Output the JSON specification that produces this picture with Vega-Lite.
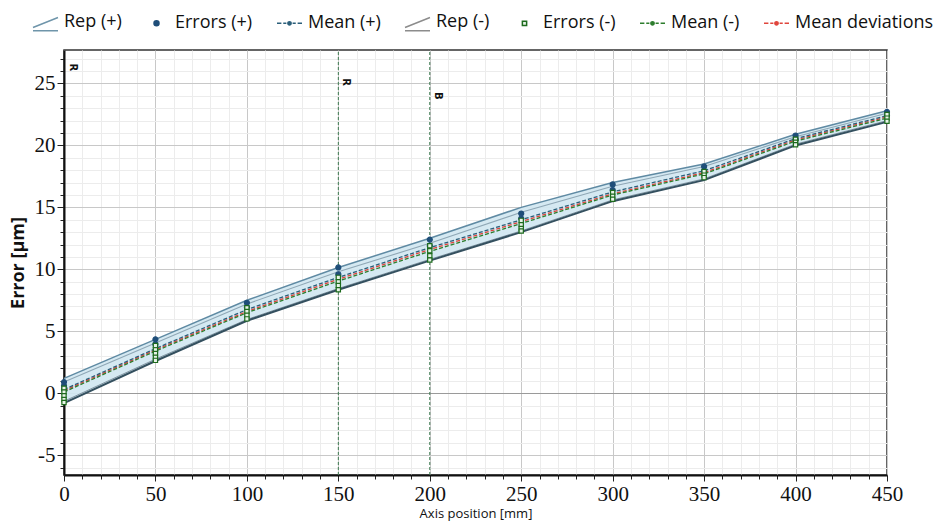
{
  "$schema": "https://vega.github.io/schema/vega-lite/v6.json",
  "width": 823,
  "height": 425,
  "autosize": "none",
  "padding": {"left": 64, "top": 50, "right": 54, "bottom": 53},
  "background": "white",
  "config": {"view": {"stroke": "#333", "strokeWidth": 1.5}},
  "datasets": {
    "band": [
      {"x": 0, "v": 1.2, "v2": -0.8},
      {"x": 50, "v": 4.35, "v2": 2.6},
      {"x": 100, "v": 7.5, "v2": 5.85},
      {"x": 150, "v": 10.15, "v2": 8.35},
      {"x": 200, "v": 12.5, "v2": 10.7},
      {"x": 250, "v": 15.0, "v2": 13.0},
      {"x": 300, "v": 17.0, "v2": 15.5},
      {"x": 350, "v": 18.5, "v2": 17.2},
      {"x": 400, "v": 20.9, "v2": 20.0},
      {"x": 450, "v": 22.8, "v2": 21.9}
    ],
    "lines": [
      {"k": "u2", "x": 0, "v": 0.9}, {"k": "u2", "x": 50, "v": 4.05}, {"k": "u2", "x": 100, "v": 7.2}, {"k": "u2", "x": 150, "v": 9.8}, {"k": "u2", "x": 200, "v": 12.1}, {"k": "u2", "x": 250, "v": 14.6}, {"k": "u2", "x": 300, "v": 16.7}, {"k": "u2", "x": 350, "v": 18.3}, {"k": "u2", "x": 400, "v": 20.7}, {"k": "u2", "x": 450, "v": 22.6},
      {"k": "l2", "x": 0, "v": -0.65}, {"k": "l2", "x": 50, "v": 2.75}, {"k": "l2", "x": 100, "v": 5.95}, {"k": "l2", "x": 150, "v": 8.45}, {"k": "l2", "x": 200, "v": 10.8}, {"k": "l2", "x": 250, "v": 13.1}, {"k": "l2", "x": 300, "v": 15.6}, {"k": "l2", "x": 350, "v": 17.3}, {"k": "l2", "x": 400, "v": 20.1}, {"k": "l2", "x": 450, "v": 22.0},
      {"k": "mp", "x": 0, "v": 0.3}, {"k": "mp", "x": 50, "v": 3.6}, {"k": "mp", "x": 100, "v": 6.75}, {"k": "mp", "x": 150, "v": 9.35}, {"k": "mp", "x": 200, "v": 11.75}, {"k": "mp", "x": 250, "v": 14.0}, {"k": "mp", "x": 300, "v": 16.25}, {"k": "mp", "x": 350, "v": 17.95}, {"k": "mp", "x": 400, "v": 20.55}, {"k": "mp", "x": 450, "v": 22.4},
      {"k": "mm", "x": 0, "v": 0.1}, {"k": "mm", "x": 50, "v": 3.4}, {"k": "mm", "x": 100, "v": 6.5}, {"k": "mm", "x": 150, "v": 9.05}, {"k": "mm", "x": 200, "v": 11.45}, {"k": "mm", "x": 250, "v": 13.7}, {"k": "mm", "x": 300, "v": 16.0}, {"k": "mm", "x": 350, "v": 17.7}, {"k": "mm", "x": 400, "v": 20.35}, {"k": "mm", "x": 450, "v": 22.2},
      {"k": "md", "x": 0, "v": 0.2}, {"k": "md", "x": 50, "v": 3.5}, {"k": "md", "x": 100, "v": 6.6}, {"k": "md", "x": 150, "v": 9.2}, {"k": "md", "x": 200, "v": 11.6}, {"k": "md", "x": 250, "v": 13.85}, {"k": "md", "x": 300, "v": 16.1}, {"k": "md", "x": 350, "v": 17.8}, {"k": "md", "x": 400, "v": 20.45}, {"k": "md", "x": 450, "v": 22.3}
    ],
    "errs": [
      {"x": 0, "v": 0.9, "series": "Errors (+)"}, {"x": 0, "v": 0.6, "series": "Errors (+)"}, {"x": 0, "v": 0.3, "series": "Errors (+)"},
      {"x": 0, "v": 0.4, "series": "Errors (-)"}, {"x": 0, "v": 0.1, "series": "Errors (-)"}, {"x": 0, "v": -0.2, "series": "Errors (-)"}, {"x": 0, "v": -0.5, "series": "Errors (-)"}, {"x": 0, "v": -0.75, "series": "Errors (-)"},
      {"x": 50, "v": 4.35, "series": "Errors (+)"}, {"x": 50, "v": 3.95, "series": "Errors (+)"},
      {"x": 50, "v": 3.85, "series": "Errors (-)"}, {"x": 50, "v": 3.5, "series": "Errors (-)"}, {"x": 50, "v": 3.2, "series": "Errors (-)"}, {"x": 50, "v": 2.9, "series": "Errors (-)"}, {"x": 50, "v": 2.65, "series": "Errors (-)"},
      {"x": 100, "v": 7.3, "series": "Errors (+)"}, {"x": 100, "v": 6.95, "series": "Errors (+)"},
      {"x": 100, "v": 6.9, "series": "Errors (-)"}, {"x": 100, "v": 6.6, "series": "Errors (-)"}, {"x": 100, "v": 6.3, "series": "Errors (-)"}, {"x": 100, "v": 6.0, "series": "Errors (-)"},
      {"x": 150, "v": 10.15, "series": "Errors (+)"}, {"x": 150, "v": 9.6, "series": "Errors (+)"},
      {"x": 150, "v": 9.35, "series": "Errors (-)"}, {"x": 150, "v": 9.0, "series": "Errors (-)"}, {"x": 150, "v": 8.7, "series": "Errors (-)"}, {"x": 150, "v": 8.35, "series": "Errors (-)"},
      {"x": 200, "v": 12.4, "series": "Errors (+)"}, {"x": 200, "v": 11.9, "series": "Errors (+)"},
      {"x": 200, "v": 11.9, "series": "Errors (-)"}, {"x": 200, "v": 11.5, "series": "Errors (-)"}, {"x": 200, "v": 11.1, "series": "Errors (-)"}, {"x": 200, "v": 10.75, "series": "Errors (-)"},
      {"x": 250, "v": 14.5, "series": "Errors (+)"}, {"x": 250, "v": 14.1, "series": "Errors (+)"},
      {"x": 250, "v": 13.95, "series": "Errors (-)"}, {"x": 250, "v": 13.6, "series": "Errors (-)"}, {"x": 250, "v": 13.3, "series": "Errors (-)"}, {"x": 250, "v": 13.1, "series": "Errors (-)"},
      {"x": 300, "v": 16.85, "series": "Errors (+)"}, {"x": 300, "v": 16.4, "series": "Errors (+)"},
      {"x": 300, "v": 16.2, "series": "Errors (-)"}, {"x": 300, "v": 15.9, "series": "Errors (-)"}, {"x": 300, "v": 15.65, "series": "Errors (-)"},
      {"x": 350, "v": 18.3, "series": "Errors (+)"}, {"x": 350, "v": 17.95, "series": "Errors (+)"},
      {"x": 350, "v": 17.9, "series": "Errors (-)"}, {"x": 350, "v": 17.6, "series": "Errors (-)"}, {"x": 350, "v": 17.4, "series": "Errors (-)"},
      {"x": 400, "v": 20.8, "series": "Errors (+)"}, {"x": 400, "v": 20.5, "series": "Errors (+)"},
      {"x": 400, "v": 20.5, "series": "Errors (-)"}, {"x": 400, "v": 20.25, "series": "Errors (-)"}, {"x": 400, "v": 20.05, "series": "Errors (-)"},
      {"x": 450, "v": 22.7, "series": "Errors (+)"}, {"x": 450, "v": 22.4, "series": "Errors (+)"},
      {"x": 450, "v": 22.5, "series": "Errors (-)"}, {"x": 450, "v": 22.2, "series": "Errors (-)"}, {"x": 450, "v": 21.95, "series": "Errors (-)"}
    ],
    "marks": [
      {"x": 150, "v": 25.1, "label": "R"},
      {"x": 200, "v": 24.0, "label": "B"}
    ],
    "corner": [
      {"x": 0, "v": 26.3, "label": "R"}
    ]
  },
  "encoding": {
    "x": {
      "field": "x", "type": "quantitative",
      "scale": {"domain": [0, 450], "nice": false, "zero": false},
      "axis": {
        "values": [0,10,20,30,40,50,60,70,80,90,100,110,120,130,140,150,160,170,180,190,200,210,220,230,240,250,260,270,280,290,300,310,320,330,340,350,360,370,380,390,400,410,420,430,440,450],
        "labelExpr": "datum.value % 50 === 0 ? datum.label : ''",
        "gridColor": {"condition": {"test": "datum.value % 50 === 0", "value": "#c8c8c8"}, "value": "#ececec"},
        "gridWidth": 1,
        "tickSize": {"condition": {"test": "datum.value % 50 === 0", "value": 6}, "value": 4},
        "tickColor": "#222",
        "domainColor": "#111", "domainWidth": 2,
        "labelFont": "Liberation Serif", "labelFontSize": 21, "labelColor": "#111",
        "labelPadding": 2, "labelOverlap": false, "labelFlush": false,
        "title": "Axis position [mm]", "titleFont": "Open Sans", "titleFontSize": 13,
        "titleFontWeight": "normal", "titleColor": "#111", "titlePadding": 3
      }
    },
    "y": {
      "field": "v", "type": "quantitative",
      "scale": {"domain": [-6.6, 27.7], "nice": false, "zero": false},
      "axis": {
        "values": [-6,-5,-4,-3,-2,-1,0,1,2,3,4,5,6,7,8,9,10,11,12,13,14,15,16,17,18,19,20,21,22,23,24,25,26,27],
        "labelExpr": "datum.value % 5 === 0 ? replace(datum.label, '\u2212', '-') : ''",
        "gridColor": {"condition": [{"test": "datum.value === 0", "value": "#9a9a9a"}, {"test": "datum.value % 5 === 0", "value": "#c8c8c8"}], "value": "#ececec"},
        "tickSize": {"condition": {"test": "datum.value % 5 === 0", "value": 7}, "value": 4},
        "tickColor": "#222",
        "domainColor": "#111", "domainWidth": 2,
        "labelFont": "Liberation Serif", "labelFontSize": 21, "labelColor": "#111",
        "labelPadding": 2, "labelOverlap": false, "labelFlush": false,
        "title": "Error [µm]", "titleFont": "Open Sans", "titleFontSize": 18,
        "titleFontWeight": "bold", "titleColor": "#111", "titlePadding": 7
      }
    }
  },
  "layer": [
    {
      "data": {"name": "band"},
      "mark": {"type": "area", "color": "#d3e8f1", "opacity": 0.95},
      "encoding": {"y2": {"field": "v2"}}
    },
    {
      "data": {"name": "band"},
      "mark": {"type": "line", "color": "#5f8aa3", "strokeWidth": 1.5},
      "encoding": {}
    },
    {
      "data": {"name": "lines"},
      "transform": [{"filter": "datum.k === 'u2'"}],
      "mark": {"type": "line", "color": "#8fa7b5", "strokeWidth": 1.1},
      "encoding": {}
    },
    {
      "data": {"name": "lines"},
      "transform": [{"filter": "datum.k === 'l2'"}],
      "mark": {"type": "line", "color": "#7f93a0", "strokeWidth": 1},
      "encoding": {}
    },
    {
      "data": {"name": "band"},
      "mark": {"type": "line", "color": "#34505f", "strokeWidth": 2},
      "encoding": {"y": {"field": "v2", "type": "quantitative"}}
    },
    {
      "data": {"name": "lines"},
      "transform": [{"filter": "datum.k === 'md'"}],
      "mark": {"type": "line", "color": "#e0453c", "strokeWidth": 1.3, "strokeDash": [4, 2], "point": {"filled": true, "size": 14, "color": "#e0453c"}},
      "encoding": {}
    },
    {
      "data": {"name": "lines"},
      "transform": [{"filter": "datum.k === 'mm'"}],
      "mark": {"type": "line", "color": "#2d7d2d", "strokeWidth": 1.3, "strokeDash": [4, 2], "point": {"filled": true, "size": 14, "color": "#2d7d2d"}},
      "encoding": {}
    },
    {
      "data": {"name": "lines"},
      "transform": [{"filter": "datum.k === 'mp'"}],
      "mark": {"type": "line", "color": "#2b5f7a", "strokeWidth": 1.3, "strokeDash": [4, 2], "point": {"filled": true, "size": 14, "color": "#2b5f7a"}},
      "encoding": {}
    },
    {
      "data": {"name": "marks"},
      "mark": {"type": "rule", "color": "#3d7a50", "strokeWidth": 1, "strokeDash": [3, 2]},
      "encoding": {"y": {"datum": -6.6}, "y2": {"datum": 27.7}}
    },
    {
      "data": {"name": "marks"},
      "mark": {"type": "text", "angle": 90, "align": "center", "baseline": "bottom", "dy": -3, "font": "DejaVu Sans", "fontSize": 10, "fontWeight": "bold", "color": "#111"},
      "encoding": {"text": {"field": "label"}}
    },
    {
      "data": {"name": "corner"},
      "mark": {"type": "text", "angle": 90, "align": "center", "baseline": "bottom", "dy": -4, "font": "DejaVu Sans", "fontSize": 10, "fontWeight": "bold", "color": "#111"},
      "encoding": {"text": {"field": "label"}}
    },
    {
      "data": {"name": "errs"},
      "mark": {"type": "point", "filled": true, "size": 625, "strokeWidth": 1.2, "opacity": 1},
      "encoding": {
        "shape": {
          "field": "series", "type": "nominal",
          "scale": {
            "domain": ["Rep (+)", "Errors (+)", "Mean (+)", "Rep (-)", "Errors (-)", "Mean (-)", "Mean deviations"],
            "range": [
              "M-1,0.45L1,-0.35M-1,0.7L1,0.7",
              "M-0.2,0A0.2,0.2 0 1,0 0.2,0A0.2,0.2 0 1,0 -0.2,0Z",
              "M-1,0H-0.65M-0.5,0H-0.25M0.25,0H0.5M0.65,0H1M-0.13,0A0.13,0.13 0 1,0 0.13,0A0.13,0.13 0 1,0 -0.13,0Z",
              "M-1,0.45L1,-0.35M-1,0.7L1,0.7",
              "M-0.17,-0.17H0.17V0.17H-0.17Z",
              "M-1,0H-0.65M-0.5,0H-0.25M0.25,0H0.5M0.65,0H1M-0.13,0A0.13,0.13 0 1,0 0.13,0A0.13,0.13 0 1,0 -0.13,0Z",
              "M-1,0H-0.65M-0.5,0H-0.25M0.25,0H0.5M0.65,0H1M-0.13,0A0.13,0.13 0 1,0 0.13,0A0.13,0.13 0 1,0 -0.13,0Z"
            ]
          },
          "legend": {"orient": "none", "legendX": -32, "legendY": -42, "direction": "horizontal", "columns": 7, "title": null, "labelFont": "Open Sans", "labelFontSize": 18, "labelColor": "#111", "symbolSize": 625, "symbolStrokeWidth": 1.5, "symbolOpacity": 1, "columnPadding": 21, "labelOffset": 5, "padding": 0, "labelLimit": 300}
        },
        "stroke": {
          "field": "series", "type": "nominal",
          "scale": {
            "domain": ["Rep (+)", "Errors (+)", "Mean (+)", "Rep (-)", "Errors (-)", "Mean (-)", "Mean deviations"],
            "range": ["#6f95aa", "#1f4e79", "#2b5f7a", "#8c8c8c", "#1d6b1d", "#2d7d2d", "#e0453c"]
          },
          "legend": {"orient": "none", "legendX": -32, "legendY": -42, "direction": "horizontal", "columns": 7, "title": null, "labelFont": "Open Sans", "labelFontSize": 18, "labelColor": "#111", "symbolSize": 625, "symbolStrokeWidth": 1.5, "symbolOpacity": 1, "columnPadding": 21, "labelOffset": 5, "padding": 0, "labelLimit": 300}
        },
        "fill": {
          "field": "series", "type": "nominal",
          "scale": {
            "domain": ["Rep (+)", "Errors (+)", "Mean (+)", "Rep (-)", "Errors (-)", "Mean (-)", "Mean deviations"],
            "range": ["transparent", "#1f4e79", "#2b5f7a", "transparent", "#e8f3e8", "#2d7d2d", "#e0453c"]
          },
          "legend": {"orient": "none", "legendX": -32, "legendY": -42, "direction": "horizontal", "columns": 7, "title": null, "labelFont": "Open Sans", "labelFontSize": 18, "labelColor": "#111", "symbolSize": 625, "symbolStrokeWidth": 1.5, "symbolOpacity": 1, "columnPadding": 21, "labelOffset": 5, "padding": 0, "labelLimit": 300}
        }
      }
    }
  ]
}
